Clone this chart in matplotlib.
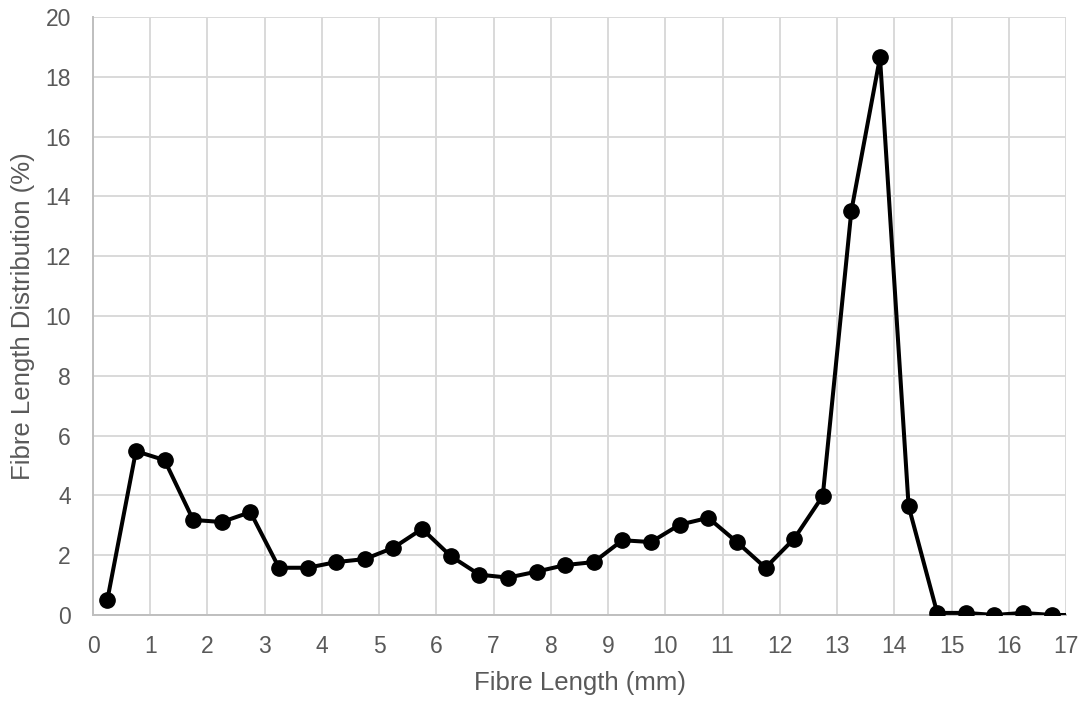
import matplotlib
matplotlib.use("Agg")
import matplotlib.pyplot as plt

plt.rcParams['font.family'] = ['Liberation Sans', 'DejaVu Sans']

# Bin centres (mm) and share of fibres in each bin (%)
fibre_length = [0.25, 0.75, 1.25, 1.75, 2.25, 2.75, 3.25, 3.75, 4.25, 4.75,
                5.25, 5.75, 6.25, 6.75, 7.25, 7.75, 8.25, 8.75, 9.25, 9.75,
                10.25, 10.75, 11.25, 11.75, 12.25, 12.75, 13.25, 13.75, 14.25, 14.75,
                15.25, 15.75, 16.25, 16.75, 17.25]
distribution = [0.50, 5.48, 5.18, 3.18, 3.11, 3.44, 1.58, 1.58, 1.77, 1.87,
                2.25, 2.88, 1.97, 1.35, 1.25, 1.45, 1.67, 1.77, 2.50, 2.44,
                3.02, 3.25, 2.44, 1.58, 2.55, 3.98, 13.52, 18.65, 3.64, 0.07,
                0.07, 0.00, 0.07, 0.00, 0.00]

x_ticks = list(range(0, 18))
y_ticks = list(range(0, 21, 2))

fig = plt.figure(figsize=(10.90, 7.02), dpi=100)
ax = fig.add_axes([93 / 1090, 87 / 702, 973 / 1090, 598 / 702])

ax.plot(fibre_length, distribution, color='black', linewidth=2.9,
        marker='o', markersize=11, markerfacecolor='black',
        markeredgecolor='black', clip_on=True, zorder=3)

ax.set_xlim(0, 17)
ax.set_ylim(0, 20)
ax.set_xticks(x_ticks)
ax.set_yticks(y_ticks)

grid_color = '#d9d9d9'
ax.grid(True, color=grid_color, linewidth=1.4, zorder=0)
ax.set_axisbelow(True)
for side in ['top', 'right']:
    ax.spines[side].set_visible(False)
for side in ['left', 'bottom']:
    ax.spines[side].set_color('#bfbfbf')
    ax.spines[side].set_linewidth(1.4)
ax.tick_params(axis='both', length=0, labelsize=16.5, colors='#595959')
ax.tick_params(axis='x', pad=14.5)
ax.tick_params(axis='y', pad=16)

ax.set_xlabel('Fibre Length (mm)', fontsize=18.5, color='#595959')
ax.set_ylabel('Fibre Length Distribution (%)', fontsize=18.5, color='#595959')
ax.xaxis.label.set_va('center')
ax.yaxis.label.set_va('center')
ax.xaxis.set_label_coords(0.5, (616 - 684) / 598)
ax.yaxis.set_label_coords((23 - 93) / 973, 0.5)

fig.savefig('out.png', dpi=100)
